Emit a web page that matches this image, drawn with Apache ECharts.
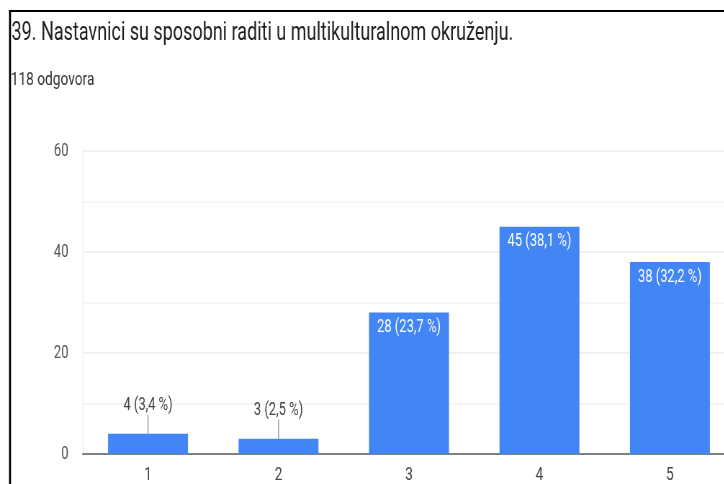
<!DOCTYPE html>
<html>
<head>
<meta charset="utf-8">
<script src="https://cdn.jsdelivr.net/npm/echarts@6/dist/echarts.min.js"></script>
<style>
  html, body { margin: 0; padding: 0; background: #ffffff; overflow: hidden; }
  /* The chart is laid out on a wider canvas and squeezed horizontally,
     giving the narrow, condensed look of the lettering. */
  #chart {
    width: 1006px;
    height: 484px;
    transform: scaleX(0.72);
    transform-origin: 0 0;
  }
</style>
</head>
<body>
<div id="chart"></div>
<script>
// Survey answers on a 1–5 scale
var categories = ['1', '2', '3', '4', '5'];
var counts = [4, 3, 28, 45, 38];
var shares = ['3,4 %', '2,5 %', '23,7 %', '38,1 %', '32,2 %'];
var yTicks = [0, 20, 40, 60];

var titleText = '39. Nastavnici su sposobni raditi u multikulturalnom okruženju.';
var subtitleText = '118 odgovora';

var FONT = 'Roboto, "Noto Sans", sans-serif';
var BLUE = '#4285f4';
var SMALL_LIMIT = 10; // bars shorter than this carry their label above

var barData = counts.map(function (v, i) {
  var small = v < SMALL_LIMIT;
  return {
    value: v,
    label: small
      ? { position: 'top', distance: 5, color: '#444444' }
      : { position: 'insideTop', distance: 6, color: '#ffffff' }
  };
});

var chart = echarts.init(document.getElementById('chart'), null, { renderer: 'canvas' });

chart.setOption({
  backgroundColor: '#ffffff',
  animation: false,
  textStyle: { fontFamily: FONT },
  title: [
    {
      text: titleText,
      left: 16, top: 19, padding: 0,
      textStyle: { fontFamily: FONT, fontSize: 25, fontWeight: 'normal', color: '#202124', lineHeight: 30 }
    },
    {
      text: subtitleText,
      left: 15, top: 69, padding: 0,
      textStyle: { fontFamily: FONT, fontSize: 19, fontWeight: 'normal', color: '#333333', lineHeight: 22 }
    }
  ],
  graphic: [
    { type: 'rect', shape: { x: 12.5, y: 10, width: 2.8, height: 480 }, style: { fill: '#000000' }, silent: true },
    { type: 'rect', shape: { x: 12.5, y: 10, width: 1000, height: 2 }, style: { fill: '#000000' }, silent: true }
  ],
  // the plot runs on past the right edge of the page
  grid: { left: 115, top: 151, width: 906, height: 303, containLabel: false, outerBoundsMode: 'none' },
  xAxis: {
    type: 'category',
    data: categories,
    axisLine: { show: true, lineStyle: { color: '#808080', width: 2 } },
    axisTick: { show: false },
    axisLabel: { fontFamily: FONT, fontSize: 19, color: '#444444', margin: 12 },
    splitLine: { show: false }
  },
  yAxis: {
    type: 'value',
    min: yTicks[0],
    max: yTicks[yTicks.length - 1],
    interval: yTicks[1] - yTicks[0],
    axisLine: { show: true, lineStyle: { color: '#eeeeee', width: 1.4 } },
    axisTick: { show: false },
    axisLabel: { fontFamily: FONT, fontSize: 18, color: '#555555', margin: 20 },
    splitLine: { show: true, lineStyle: { color: '#ececec', width: 1.5 } },
    minorTick: { show: false, splitNumber: 2 },
    minorSplitLine: { show: true, lineStyle: { color: '#f3f3f3', width: 1.5 } }
  },
  series: [{
    type: 'bar',
    data: barData,
    barWidth: 111,
    itemStyle: { color: BLUE },
    label: {
      show: true,
      fontFamily: FONT,
      fontSize: 18,
      formatter: function (p) {
        return counts[p.dataIndex] + ' (' + shares[p.dataIndex] + ')';
      }
    },
    labelLayout: function (p) {
      if (counts[p.dataIndex] < SMALL_LIMIT) {
        return { dy: -14 };
      }
      return {};
    },
    labelLine: { show: true, lineStyle: { color: '#9e9e9e', width: 1.5 } }
  }]
});
</script>
</body>
</html>
